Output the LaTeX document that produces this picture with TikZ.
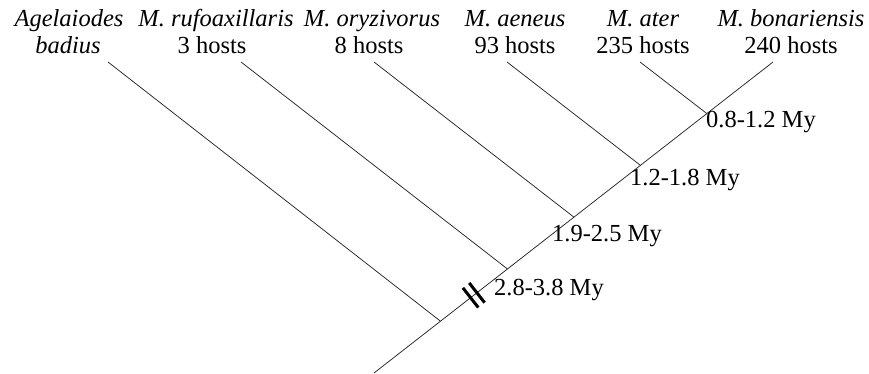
\documentclass[tikz,border=0pt]{standalone}
\usepackage{fontspec}
\setmainfont{Liberation Serif}
\usetikzlibrary{calc}
\begin{document}
\begin{tikzpicture}[x=1pt,y=1pt,
  branch/.style={line width=0.75pt, draw=black!85},
  hashmark/.style={line width=3pt, draw=black},
  taxon/.style={anchor=base, inner sep=0pt, font=\fontsize{24.5}{29}\selectfont\itshape},
  hostcount/.style={anchor=base, inner sep=0pt, font=\fontsize{24.5}{29}\selectfont},
  agelabel/.style={anchor=base west, inner sep=0pt, font=\fontsize{24.5}{29}\selectfont}]
\useasboundingbox (0,0) rectangle (869,373);
% tips and root
\coordinate (T1) at (108,311);
\coordinate (T2) at (241,311);
\coordinate (T3) at (374,311);
\coordinate (T4) at (507,311);
\coordinate (T5) at (640,311);
\coordinate (T6) at (773,311);
\coordinate (R) at (374,0);
% junctions
\coordinate (J1) at (440.5,51.8);
\coordinate (J2) at (507.5,104);
\coordinate (J3) at (574,155.8);
\coordinate (J4) at (640.5,207.6);
\coordinate (J5) at (707,259.3);
% tree
\draw[branch] (R) -- (T6);
\draw[branch] (J1) -- (T1);
\draw[branch] (J2) -- (T2);
\draw[branch] (J3) -- (T3);
\draw[branch] (J4) -- (T4);
\draw[branch] (J5) -- (T5);
% hash marks
\coordinate (H) at ($(R)!0.25!(T6)$);
\coordinate (Ha) at ($(H)!4pt!(T6)$);
\coordinate (Hb) at ($(H)!-4pt!(T6)$);
\draw[hashmark] ($(Ha)!12.5pt!90:(T6)$) -- ($(Ha)!12.5pt!-90:(T6)$);
\draw[hashmark] ($(Hb)!12.5pt!90:(T6)$) -- ($(Hb)!12.5pt!-90:(T6)$);
% taxon labels
\node[taxon] (n1) at (69,346) {Agelaiodes};
\node[taxon] (n1b) at (68,319) {badius};
\node[taxon] (n2) at (216,346) {M. rufoaxillaris};
\node[hostcount] (h2) at (212,319) {3 hosts};
\node[taxon] (n3) at (372,346) {M. oryzivorus};
\node[hostcount] (h3) at (369,319) {8 hosts};
\node[taxon] (n4) at (515,346) {M. aeneus};
\node[hostcount] (h4) at (515,319) {93 hosts};
\node[taxon] (n5) at (643,346) {M. ater};
\node[hostcount] (h5) at (643,319) {235 hosts};
\node[taxon] (n6) at (791,346) {M. bonariensis};
\node[hostcount] (h6) at (791,319) {240 hosts};
% age labels
\node[agelabel] (a5) at (706,246) {0.8-1.2 My};
\node[agelabel] (a4) at (630,188) {1.2-1.8 My};
\node[agelabel] (a3) at (552,132) {1.9-2.5 My};
\node[agelabel] (a2) at (494,78) {2.8-3.8 My};
\end{tikzpicture}
\end{document}
